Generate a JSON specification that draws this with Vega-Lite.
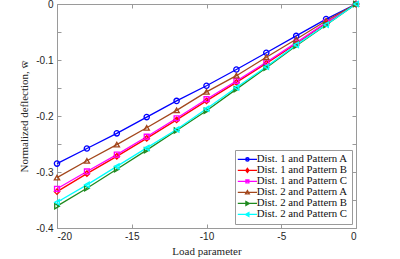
{
  "$schema": "https://vega.github.io/schema/vega-lite/v6.json",
  "width": 299,
  "height": 224,
  "autosize": "none",
  "padding": {"left": 57, "top": 4, "right": 44, "bottom": 31},
  "config": {
    "view": {"stroke": "#9a9a9a", "strokeWidth": 1},
    "axis": {"grid": false, "domainColor": "#9a9a9a", "tickColor": "#9a9a9a", "labelColor": "#262626", "labelFont": "Liberation Sans", "labelFontSize": 10, "titleFont": "Liberation Serif", "titleFontSize": 11, "titleFontWeight": "normal", "titleColor": "#262626"},
    "legend": {"labelFont": "Liberation Serif", "labelFontSize": 10.8, "labelColor": "#111111", "orient": "bottom-right", "offset": 4, "strokeColor": "#9a9a9a", "fillColor": "#ffffff", "padding": 4, "rowPadding": -1, "symbolSize": 64, "symbolOffset": 3, "labelOffset": 4, "symbolStrokeWidth": 1.4, "symbolOpacity": 1, "symbolFillColor": "#ffffff"}
  },
  "data": {"values": [
    {"x": -20, "y": -0.285, "s": "Dist. 1 and Pattern A"},
    {"x": -18, "y": -0.258, "s": "Dist. 1 and Pattern A"},
    {"x": -16, "y": -0.231, "s": "Dist. 1 and Pattern A"},
    {"x": -14, "y": -0.202, "s": "Dist. 1 and Pattern A"},
    {"x": -12, "y": -0.173, "s": "Dist. 1 and Pattern A"},
    {"x": -10, "y": -0.146, "s": "Dist. 1 and Pattern A"},
    {"x": -8, "y": -0.117, "s": "Dist. 1 and Pattern A"},
    {"x": -6, "y": -0.087, "s": "Dist. 1 and Pattern A"},
    {"x": -4, "y": -0.057, "s": "Dist. 1 and Pattern A"},
    {"x": -2, "y": -0.027, "s": "Dist. 1 and Pattern A"},
    {"x": 0, "y": 0, "s": "Dist. 1 and Pattern A"},
    {"x": -20, "y": -0.335, "s": "Dist. 1 and Pattern B"},
    {"x": -18, "y": -0.303, "s": "Dist. 1 and Pattern B"},
    {"x": -16, "y": -0.272, "s": "Dist. 1 and Pattern B"},
    {"x": -14, "y": -0.240, "s": "Dist. 1 and Pattern B"},
    {"x": -12, "y": -0.207, "s": "Dist. 1 and Pattern B"},
    {"x": -10, "y": -0.173, "s": "Dist. 1 and Pattern B"},
    {"x": -8, "y": -0.140, "s": "Dist. 1 and Pattern B"},
    {"x": -6, "y": -0.106, "s": "Dist. 1 and Pattern B"},
    {"x": -4, "y": -0.071, "s": "Dist. 1 and Pattern B"},
    {"x": -2, "y": -0.034, "s": "Dist. 1 and Pattern B"},
    {"x": 0, "y": 0, "s": "Dist. 1 and Pattern B"},
    {"x": -20, "y": -0.330, "s": "Dist. 1 and Pattern C"},
    {"x": -18, "y": -0.299, "s": "Dist. 1 and Pattern C"},
    {"x": -16, "y": -0.269, "s": "Dist. 1 and Pattern C"},
    {"x": -14, "y": -0.237, "s": "Dist. 1 and Pattern C"},
    {"x": -12, "y": -0.204, "s": "Dist. 1 and Pattern C"},
    {"x": -10, "y": -0.170, "s": "Dist. 1 and Pattern C"},
    {"x": -8, "y": -0.1375, "s": "Dist. 1 and Pattern C"},
    {"x": -6, "y": -0.104, "s": "Dist. 1 and Pattern C"},
    {"x": -4, "y": -0.069, "s": "Dist. 1 and Pattern C"},
    {"x": -2, "y": -0.033, "s": "Dist. 1 and Pattern C"},
    {"x": 0, "y": 0, "s": "Dist. 1 and Pattern C"},
    {"x": -20, "y": -0.310, "s": "Dist. 2 and Pattern A"},
    {"x": -18, "y": -0.280, "s": "Dist. 2 and Pattern A"},
    {"x": -16, "y": -0.251, "s": "Dist. 2 and Pattern A"},
    {"x": -14, "y": -0.221, "s": "Dist. 2 and Pattern A"},
    {"x": -12, "y": -0.190, "s": "Dist. 2 and Pattern A"},
    {"x": -10, "y": -0.157, "s": "Dist. 2 and Pattern A"},
    {"x": -8, "y": -0.128, "s": "Dist. 2 and Pattern A"},
    {"x": -6, "y": -0.095, "s": "Dist. 2 and Pattern A"},
    {"x": -4, "y": -0.063, "s": "Dist. 2 and Pattern A"},
    {"x": -2, "y": -0.030, "s": "Dist. 2 and Pattern A"},
    {"x": 0, "y": 0, "s": "Dist. 2 and Pattern A"},
    {"x": -20, "y": -0.361, "s": "Dist. 2 and Pattern B"},
    {"x": -18, "y": -0.329, "s": "Dist. 2 and Pattern B"},
    {"x": -16, "y": -0.295, "s": "Dist. 2 and Pattern B"},
    {"x": -14, "y": -0.261, "s": "Dist. 2 and Pattern B"},
    {"x": -12, "y": -0.226, "s": "Dist. 2 and Pattern B"},
    {"x": -10, "y": -0.1905, "s": "Dist. 2 and Pattern B"},
    {"x": -8, "y": -0.152, "s": "Dist. 2 and Pattern B"},
    {"x": -6, "y": -0.114, "s": "Dist. 2 and Pattern B"},
    {"x": -4, "y": -0.0745, "s": "Dist. 2 and Pattern B"},
    {"x": -2, "y": -0.0375, "s": "Dist. 2 and Pattern B"},
    {"x": 0, "y": 0, "s": "Dist. 2 and Pattern B"},
    {"x": -20, "y": -0.354, "s": "Dist. 2 and Pattern C"},
    {"x": -18, "y": -0.323, "s": "Dist. 2 and Pattern C"},
    {"x": -16, "y": -0.290, "s": "Dist. 2 and Pattern C"},
    {"x": -14, "y": -0.257, "s": "Dist. 2 and Pattern C"},
    {"x": -12, "y": -0.224, "s": "Dist. 2 and Pattern C"},
    {"x": -10, "y": -0.187, "s": "Dist. 2 and Pattern C"},
    {"x": -8, "y": -0.149, "s": "Dist. 2 and Pattern C"},
    {"x": -6, "y": -0.112, "s": "Dist. 2 and Pattern C"},
    {"x": -4, "y": -0.073, "s": "Dist. 2 and Pattern C"},
    {"x": -2, "y": -0.037, "s": "Dist. 2 and Pattern C"},
    {"x": 0, "y": 0, "s": "Dist. 2 and Pattern C"}
  ]},
  "layer": [
    {
      "mark": {"type": "line", "strokeWidth": 1.3},
      "encoding": {
        "x": {"field": "x", "type": "quantitative", "scale": {"domain": [-20, 0], "nice": false}, "axis": {"orient": "bottom", "values": [-20, -15, -10, -5, 0], "tickSize": -4, "labelPadding": 7, "labelExpr": "replace(format(datum.value, 'd'), '−', '-')", "title": "Load parameter", "titlePadding": 4}},
        "y": {"field": "y", "type": "quantitative", "scale": {"domain": [-0.4, 0], "nice": false}, "axis": {"orient": "left", "values": [-0.4, -0.35, -0.3, -0.25, -0.2, -0.15, -0.1, -0.05, 0], "tickSize": -4, "labelPadding": 8, "labelExpr": "abs(round(datum.value*100)) % 10 == 0 ? replace(format(datum.value, '.1~f'), '−', '-') : ''", "title": "Normalized deflection, w\u0305", "titlePadding": 6}},
        "color": {"field": "s", "type": "nominal", "scale": {"domain": ["Dist. 1 and Pattern A", "Dist. 1 and Pattern B", "Dist. 1 and Pattern C", "Dist. 2 and Pattern A", "Dist. 2 and Pattern B", "Dist. 2 and Pattern C"], "range": ["#0000ff", "#ff0000", "#ff00ff", "#a3471c", "#1f8a1f", "#00ffff"]}, "legend": {"title": null, "symbolFillColor": "#ffffff", "encode": {"symbols": {"update": {"fill": {"value": "#ffffff"}}}}}}
      }
    },
    {
      "transform": [{"filter": {"field": "s", "equal": "Dist. 1 and Pattern A"}}],
      "mark": {"type": "point", "shape": "circle", "filled": false, "opacity": 1, "size": 28, "strokeWidth": 1.3},
      "encoding": {"x": {"field": "x", "type": "quantitative", "axis": null}, "y": {"field": "y", "type": "quantitative", "axis": null}, "color": {"field": "s", "type": "nominal", "legend": {"title": null, "symbolFillColor": "#ffffff"}}}
    },
    {
      "transform": [{"filter": {"field": "s", "equal": "Dist. 1 and Pattern B"}}],
      "mark": {"type": "point", "shape": "diamond", "filled": false, "opacity": 1, "size": 30, "strokeWidth": 1.3},
      "encoding": {"x": {"field": "x", "type": "quantitative", "axis": null}, "y": {"field": "y", "type": "quantitative", "axis": null}, "color": {"field": "s", "type": "nominal", "legend": {"title": null, "symbolFillColor": "#ffffff"}}}
    },
    {
      "transform": [{"filter": {"field": "s", "equal": "Dist. 1 and Pattern C"}}],
      "mark": {"type": "point", "shape": "square", "filled": false, "opacity": 1, "size": 24, "strokeWidth": 1.3},
      "encoding": {"x": {"field": "x", "type": "quantitative", "axis": null}, "y": {"field": "y", "type": "quantitative", "axis": null}, "color": {"field": "s", "type": "nominal", "legend": {"title": null, "symbolFillColor": "#ffffff"}}}
    },
    {
      "transform": [{"filter": {"field": "s", "equal": "Dist. 2 and Pattern A"}}],
      "mark": {"type": "point", "shape": "triangle-up", "filled": false, "opacity": 1, "size": 28, "strokeWidth": 1.3},
      "encoding": {"x": {"field": "x", "type": "quantitative", "axis": null}, "y": {"field": "y", "type": "quantitative", "axis": null}, "color": {"field": "s", "type": "nominal", "legend": {"title": null, "symbolFillColor": "#ffffff"}}}
    },
    {
      "transform": [{"filter": {"field": "s", "equal": "Dist. 2 and Pattern B"}}],
      "mark": {"type": "point", "shape": "triangle-right", "filled": false, "opacity": 1, "size": 28, "strokeWidth": 1.3},
      "encoding": {"x": {"field": "x", "type": "quantitative", "axis": null}, "y": {"field": "y", "type": "quantitative", "axis": null}, "color": {"field": "s", "type": "nominal", "legend": {"title": null, "symbolFillColor": "#ffffff"}}}
    },
    {
      "transform": [{"filter": {"field": "s", "equal": "Dist. 2 and Pattern C"}}],
      "mark": {"type": "point", "shape": "triangle-left", "filled": false, "opacity": 1, "size": 28, "strokeWidth": 1.3},
      "encoding": {"x": {"field": "x", "type": "quantitative", "axis": null}, "y": {"field": "y", "type": "quantitative", "axis": null}, "color": {"field": "s", "type": "nominal", "legend": {"title": null, "symbolFillColor": "#ffffff"}}}
    },
    {
      "mark": {"type": "point", "filled": false, "opacity": 0},
      "encoding": {
        "x": {"field": "x", "type": "quantitative", "axis": {"orient": "top", "values": [-20, -15, -10, -5, 0], "tickSize": -4, "labels": false, "domain": false, "title": null}},
        "y": {"field": "y", "type": "quantitative", "axis": {"orient": "right", "values": [-0.4, -0.35, -0.3, -0.25, -0.2, -0.15, -0.1, -0.05, 0], "tickSize": -4, "labels": false, "domain": false, "title": null}},
        "color": {"field": "s", "type": "nominal", "legend": {"title": null, "symbolFillColor": "#ffffff"}},
        "shape": {"field": "s", "type": "nominal", "scale": {"domain": ["Dist. 1 and Pattern A", "Dist. 1 and Pattern B", "Dist. 1 and Pattern C", "Dist. 2 and Pattern A", "Dist. 2 and Pattern B", "Dist. 2 and Pattern C"], "range": ["M-2.4,0L2.4,0M-0.4,0A0.4,0.4 0 1,0 0.4,0A0.4,0.4 0 1,0 -0.4,0", "M-2.4,0L2.4,0M0,-0.5L0.38,0L0,0.5L-0.38,0Z", "M-2.4,0L2.4,0M-0.36,-0.36L0.36,-0.36L0.36,0.36L-0.36,0.36Z", "M-2.4,0L2.4,0M0,-0.45L0.45,0.36L-0.45,0.36Z", "M-2.4,0L2.4,0M-0.36,-0.45L0.45,0L-0.36,0.45Z", "M-2.4,0L2.4,0M0.36,-0.45L-0.45,0L0.36,0.45Z"]}, "legend": {"title": null, "symbolFillColor": "#ffffff"}}
      }
    }
  ],
  "resolve": {"axis": {"x": "independent", "y": "independent"}}
}
